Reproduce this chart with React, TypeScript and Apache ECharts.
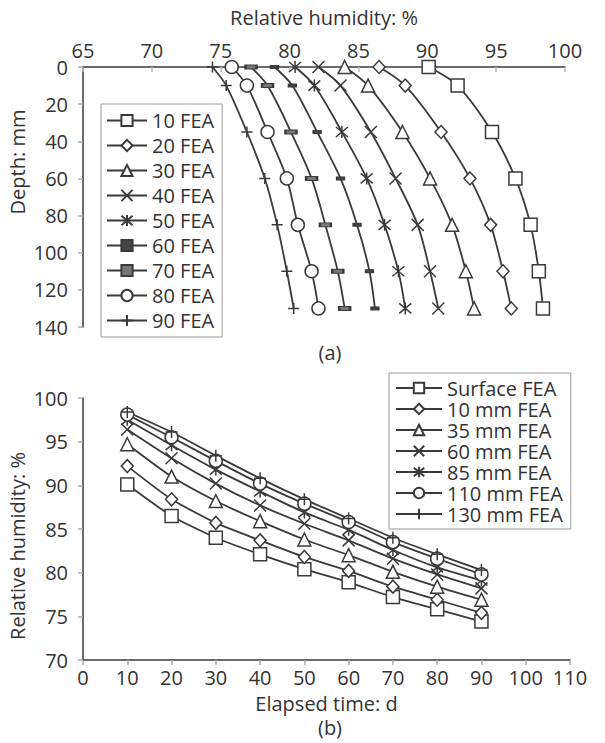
import React, { useEffect, useRef } from "react";
import * as echarts from "echarts";

// Depth positions (mm) and elapsed times (d)
const depths = [0, 10, 35, 60, 85, 110, 130];
const times = [10, 20, 30, 40, 50, 60, 70, 80, 90];

// Relative humidity (%) by depth, one value per elapsed time (10..90 d)
const rhSurface = [90.1, 86.5, 84.0, 82.1, 80.4, 78.9, 77.2, 75.8, 74.4];
const rh10 = [92.2, 88.4, 85.7, 83.7, 81.8, 80.2, 78.4, 76.9, 75.4];
const rh35 = [94.7, 91.0, 88.2, 85.9, 83.8, 82.0, 80.1, 78.4, 76.9];
const rh60 = [96.4, 93.1, 90.2, 87.7, 85.6, 83.7, 81.6, 79.8, 78.2];
const rh85 = [97.5, 94.6, 91.8, 89.3, 86.9, 84.9, 82.6, 80.6, 79.1];
const rh110 = [98.1, 95.5, 92.8, 90.2, 87.9, 85.8, 83.5, 81.6, 79.8];
const rh130 = [98.4, 96.1, 93.4, 90.8, 88.4, 86.2, 84.0, 82.1, 80.3];

const depthSeries = [rhSurface, rh10, rh35, rh60, rh85, rh110, rh130];
const depthNames = [
  "Surface FEA",
  "10 mm FEA",
  "35 mm FEA",
  "60 mm FEA",
  "85 mm FEA",
  "110 mm FEA",
  "130 mm FEA",
];
const timeNames = times.map((t) => `${t} FEA`);

const topXTicks = { min: 65, max: 100, interval: 5 };
const topYTicks = { min: 0, max: 140, interval: 20 };
const botXTicks = { min: 0, max: 110, interval: 10 };
const botYTicks = { min: 70, max: 100, interval: 5 };

const FONT = "Open Sans";
const TXT = "#333";
const LINE = "#3a3a3a";

const X_PATH = "path://M0,0L10,10M10,0L0,10";
const STAR_PATH = "path://M0,0L10,10M10,0L0,10M5,-1L5,11";
const PLUS_PATH = "path://M5,0L5,10M0,5L10,5";

type Sym = { symbol: string; size: number | number[]; fill: string };
const timeSymbols: Sym[] = [
  { symbol: "rect", size: 13, fill: "#fff" },
  { symbol: "diamond", size: [12, 13], fill: "#fff" },
  { symbol: "triangle", size: 13, fill: "#fff" },
  { symbol: X_PATH, size: 12, fill: "#fff" },
  { symbol: STAR_PATH, size: 12, fill: "#fff" },
  { symbol: "rect", size: [7, 3], fill: "#444" },
  { symbol: "rect", size: [11, 4], fill: "#777" },
  { symbol: "circle", size: 13, fill: "#fff" },
  { symbol: PLUS_PATH, size: 11, fill: "#fff" },
];
const depthSymbols: Sym[] = [
  { symbol: "rect", size: 13, fill: "#fff" },
  { symbol: "diamond", size: [12, 13], fill: "#fff" },
  { symbol: "triangle", size: 13, fill: "#fff" },
  { symbol: X_PATH, size: 12, fill: "#fff" },
  { symbol: STAR_PATH, size: 12, fill: "#fff" },
  { symbol: "circle", size: 13, fill: "#fff" },
  { symbol: PLUS_PATH, size: 12, fill: "#fff" },
];

export default function App() {
  const ref = useRef<HTMLDivElement>(null);
  useEffect(() => {
    document.body.style.margin = "0";
    if (!ref.current) return;
    const chart = echarts.init(ref.current, null, { renderer: "svg" });

    const axisCommon = {
      axisLine: { show: true, lineStyle: { color: LINE, width: 1.5 } },
      axisTick: { show: true, lineStyle: { color: "#aaa", width: 1.5 }, length: 5 },
      splitLine: { show: false },
      axisLabel: { color: TXT, fontFamily: FONT, fontSize: 20 },
      nameTextStyle: { color: TXT, fontFamily: FONT, fontSize: 20 },
    };

    const topSeries = times.map((t, ti) => {
      const s = timeSymbols[ti];
      return {
        name: timeNames[ti],
        type: "line",
        xAxisIndex: 0,
        yAxisIndex: 0,
        smooth: 0.3,
        symbol: s.symbol,
        symbolSize: s.size,
        showAllSymbol: true,
        lineStyle: { color: LINE, width: 1.8 },
        itemStyle: { color: s.fill, borderColor: LINE, borderWidth: 1.5 },
        data: depths.map((d, di) => [depthSeries[di][ti], d]),
      };
    });

    const botSeries = depthSeries.map((arr, di) => {
      const s = depthSymbols[di];
      return {
        name: depthNames[di],
        type: "line",
        xAxisIndex: 1,
        yAxisIndex: 1,
        smooth: 0.2,
        symbol: s.symbol,
        symbolSize: s.size,
        showAllSymbol: true,
        lineStyle: { color: LINE, width: 1.8 },
        itemStyle: { color: s.fill, borderColor: LINE, borderWidth: 1.5 },
        data: times.map((t, ti) => [t, arr[ti]]),
      };
    });

    chart.setOption({
      animation: false,
      backgroundColor: "#fff",
      textStyle: { fontFamily: FONT },
      grid: [
        { left: 83, top: 67, width: 482, height: 260 },
        { left: 83, top: 398, width: 487, height: 262 },
      ],
      xAxis: [
        {
          gridIndex: 0,
          type: "value",
          position: "top",
          ...topXTicks,
          ...axisCommon,
          axisTick: { show: true, inside: true, lineStyle: { color: "#bbb", width: 1.5 }, length: 5 },
          name: "Relative humidity: %",
          nameLocation: "middle",
          nameGap: 40,
          axisLabel: { ...axisCommon.axisLabel, margin: 7 },
        },
        {
          gridIndex: 1,
          type: "value",
          ...botXTicks,
          ...axisCommon,
          name: "Elapsed time: d",
          nameLocation: "middle",
          nameGap: 33,
          axisLabel: { ...axisCommon.axisLabel, margin: 7 },
        },
      ],
      yAxis: [
        {
          gridIndex: 0,
          type: "value",
          inverse: true,
          ...topYTicks,
          ...axisCommon,
          axisLabel: { ...axisCommon.axisLabel, margin: 15 },
        },
        {
          gridIndex: 1,
          type: "value",
          ...botYTicks,
          ...axisCommon,
          axisLabel: { ...axisCommon.axisLabel, margin: 15 },
        },
      ],
      legend: [
        {
          data: timeNames,
          orient: "vertical",
          left: 101,
          top: 104,
          itemWidth: 40,
          itemHeight: 14,
          itemGap: 4,
          padding: [6, 8, 6, 5],
          borderColor: "#999",
          borderWidth: 1,
          backgroundColor: "#fff",
          textStyle: { color: TXT, fontFamily: FONT, fontSize: 20, lineHeight: 21 },
        },
        {
          data: depthNames,
          orient: "vertical",
          left: 389,
          top: 373,
          itemWidth: 46,
          itemHeight: 13,
          itemGap: 1,
          padding: [5, 8, 5, 6],
          borderColor: "#999",
          borderWidth: 1,
          backgroundColor: "#fff",
          textStyle: { color: TXT, fontFamily: FONT, fontSize: 20, lineHeight: 20 },
        },
      ],
      graphic: [
        {
          type: "text",
          x: 17,
          y: 162,
          rotation: Math.PI / 2,
          style: {
            text: "Depth: mm",
            fill: TXT,
            font: `20px ${FONT}`,
            align: "center",
            verticalAlign: "middle",
          },
        },
        {
          type: "text",
          x: 17,
          y: 546,
          rotation: Math.PI / 2,
          style: {
            text: "Relative humidity: %",
            fill: TXT,
            font: `20px ${FONT}`,
            align: "center",
            verticalAlign: "middle",
          },
        },
        {
          type: "text",
          x: 330,
          y: 352,
          style: { text: "(a)", fill: TXT, font: `20px ${FONT}`, align: "center", verticalAlign: "middle" },
        },
        {
          type: "text",
          x: 330,
          y: 727,
          style: { text: "(b)", fill: TXT, font: `20px ${FONT}`, align: "center", verticalAlign: "middle" },
        },
      ],
      series: [...topSeries, ...botSeries],
    });
    return () => chart.dispose();
  }, []);
  return <div ref={ref} style={{ width: 605, height: 743 }} />;
}
